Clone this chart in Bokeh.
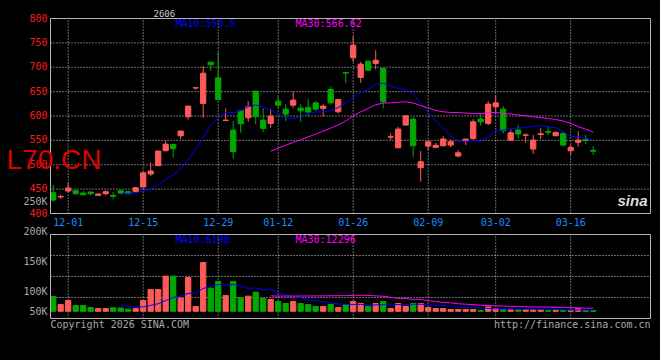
import numpy as np
import pandas as pd
from bokeh.plotting import figure
from bokeh.models import Range1d, ColumnDataSource
from bokeh.core.properties import value
from bokeh.embed import file_html
from bokeh.resources import INLINE

# ---------------- data ----------------
dates = ["11-27", "11-28",
         "12-01", "12-02", "12-03", "12-04", "12-05",
         "12-08", "12-09", "12-10", "12-11", "12-12",
         "12-15", "12-16", "12-17", "12-18", "12-19",
         "12-22", "12-23", "12-24", "12-25", "12-26",
         "12-29", "12-30", "12-31",
         "01-05", "01-06", "01-07", "01-08", "01-09",
         "01-12", "01-13", "01-14", "01-15", "01-16",
         "01-19", "01-20", "01-21", "01-22", "01-23",
         "01-26", "01-27", "01-28", "01-29", "01-30",
         "02-02", "02-03", "02-04", "02-05", "02-06",
         "02-09", "02-10", "02-11", "02-12", "02-13",
         "02-24", "02-25", "02-26", "02-27",
         "03-02", "03-03", "03-04", "03-05", "03-06",
         "03-09", "03-10", "03-11", "03-12", "03-13",
         "03-16", "03-17", "03-18", "03-19"]

opens = [442.6, 434.0, 446.1, 446.7, 442.0, 444.1, 437.3, 440.6, 437.3, 446.7,
         444.7, 444.7, 454.3, 481.0, 498.0, 528.7, 541.8, 559.4, 598.4, 657.5,
         625.8, 710.5, 678.3, 590.5, 571.1, 610.7, 596.3, 651.0, 591.6, 584.8,
         630.5, 614.1, 622.3, 616.2, 617.6, 627.0, 615.6, 654.5, 608.6, 689.0,
         719.3, 679.1, 712.5, 707.8, 697.5, 556.5, 534.8, 581.4, 593.6, 493.9,
         538.3, 535.7, 538.9, 540.4, 517.8, 548.6, 554.1, 593.6, 584.8, 618.9,
         614.1, 550.6, 571.1, 560.5, 532.2, 562.0, 568.5, 559.4, 564.3, 528.7,
         545.9, 551.5, 529.5]
highs = [458.4, 438.5, 463.1, 448.8, 446.1, 444.5, 441.0, 447.5, 444.1, 447.5,
         446.5, 454.7, 484.0, 504.9, 528.5, 549.2, 543.0, 569.5, 620.5, 658.5,
         702.9, 711.0, 731.6, 615.6, 589.5, 611.0, 630.5, 652.0, 615.6, 614.1,
         640.8, 624.4, 651.0, 624.4, 634.6, 630.5, 623.8, 659.8, 635.0, 689.5,
         763.7, 711.1, 713.5, 735.0, 698.8, 564.3, 577.9, 601.0, 597.1, 528.1,
         548.0, 545.0, 558.8, 552.0, 530.0, 553.0, 593.6, 605.3, 630.5, 642.8,
         620.3, 572.5, 581.4, 564.3, 560.9, 574.6, 579.3, 568.0, 567.6, 540.4,
         569.1, 560.9, 538.3]
lows = [424.2, 430.3, 442.6, 438.5, 437.3, 437.0, 436.0, 437.3, 429.1, 440.0,
        439.0, 444.0, 454.0, 476.8, 497.5, 528.0, 514.3, 552.7, 593.0, 653.5,
        596.3, 692.6, 633.0, 590.0, 512.3, 565.6, 588.1, 583.4, 567.6, 575.8,
        614.1, 589.5, 616.8, 588.0, 599.8, 610.7, 598.4, 623.8, 605.0, 668.0,
        711.1, 668.0, 692.0, 696.0, 615.6, 550.6, 534.0, 580.0, 516.4, 465.2,
        530.0, 533.6, 538.0, 535.7, 515.0, 540.4, 550.6, 580.0, 581.4, 605.3,
        564.3, 548.6, 554.1, 545.0, 522.1, 552.7, 560.9, 559.0, 538.3, 519.9,
        536.9, 542.4, 519.9]
closes = [427.7, 435.0, 452.3, 440.6, 438.5, 440.6, 440.0, 444.7, 435.2, 442.0,
          440.6, 452.9, 483.6, 487.1, 528.1, 542.4, 532.8, 569.1, 620.3, 658.0,
          687.9, 704.9, 634.0, 591.5, 526.7, 584.0, 618.9, 598.4, 574.6, 599.8,
          622.3, 603.9, 632.6, 610.7, 608.0, 614.1, 620.3, 627.0, 634.0, 688.0,
          745.3, 706.4, 694.0, 714.5, 629.1, 557.5, 573.2, 600.4, 538.9, 506.1,
          547.1, 539.8, 552.7, 547.1, 524.6, 552.7, 588.1, 588.1, 624.4, 627.0,
          569.7, 565.6, 562.9, 561.3, 550.6, 563.5, 566.5, 566.4, 540.4, 535.7,
          550.6, 549.8, 527.8]
# volume, thousands
volumes = [91.7, 78.3, 85.0, 76.7, 76.7, 73.3, 71.7, 71.7, 72.8, 72.5,
           70.6, 71.7, 85.0, 103.3, 103.3, 125.6, 125.6, 88.9, 123.3, 75.0,
           148.3, 105.6, 116.7, 93.3, 116.7, 90.0, 92.2, 98.9, 88.3, 86.7,
           83.3, 80.0, 83.3, 80.0, 78.3, 75.0, 75.0, 78.3, 73.3, 78.3,
           83.3, 80.0, 75.0, 80.0, 83.3, 71.7, 80.0, 75.0, 80.0, 80.0,
           73.3, 71.7, 71.7, 70.0, 70.0, 70.0, 70.0, 68.3, 74.4, 71.7,
           70.0, 70.0, 70.0, 70.0, 70.0, 69.4, 68.3, 68.3, 68.3, 68.3,
           71.7, 68.3, 68.3]
vol_base = 67.0

tick_dates = ["12-01", "12-15", "12-29", "01-12", "01-26", "02-09", "03-02", "03-16"]
price_ticks = [400, 450, 500, 550, 600, 650, 700, 750, 800]
price_tick_labels = ["400", "450", "500", "550", "600", "650", "700", "750", "800"]
vol_ticks = [250, 200, 150, 100, vol_base]
vol_tick_labels = ["250K", "200K", "150K", "100K", "50K"]
price_legend = ["MA10:550.5", "MA30:566.62"]
vol_legend = ["MA10:6198", "MA30:12296"]
ticker_name = "L70.CN"
header_text = "2606"
footer_left = "Copyright 2026 SINA.COM"
footer_right = "http://finance.sina.com.cn"
logo_text = "sina"

# ---------------- layout constants (pixels) ----------------
W, H = 658, 340
FRAME_L, FRAME_R = 50, 650
PRICE_T, PRICE_B = 18, 213
VOL_T, VOL_B = 234, 318
P_LO, P_HI = 400, 800
V_LO, V_HI = 55, 195
X_LO, X_HI = -0.36, 79.64

xpu = (FRAME_R - FRAME_L) / (X_HI - X_LO)
ppu = (PRICE_B - PRICE_T) / (P_HI - P_LO)
vpu = (VOL_B - VOL_T) / (V_HI - V_LO)

# ---------------- derived ----------------
idx = np.arange(len(dates))
o = np.array(opens); c = np.array(closes)
RED, GREEN = "#ff5a5a", "#00a800"
colors = [RED if ci >= oi else GREEN for oi, ci in zip(opens, closes)]
src = ColumnDataSource(dict(
    x=idx, h=highs, l=lows, top=np.maximum(o, c), bot=np.minimum(o, c),
    color=colors, vol=volumes, vbase=[vol_base] * len(dates),
    ma10=pd.Series(closes).rolling(10).mean(), ma30=pd.Series(closes).rolling(30).mean(),
    vma10=pd.Series(volumes).rolling(10).mean(), vma30=pd.Series(volumes).rolling(30).mean()))
tick_idx = [dates.index(d) for d in tick_dates]

MONO = "DejaVu Sans Mono"
GRID = "#d4d4d4"
BORDER = "#b4b4b4"
GRAY = "#a8a8a8"
DASH = "1 2"

p = figure(width=W, height=H, output_backend="svg", toolbar_location=None,
           x_axis_type=None, y_axis_type=None, min_border=0,
           x_range=Range1d(X_LO - FRAME_L / xpu, X_LO + (W - FRAME_L) / xpu),
           y_range=Range1d(P_HI - (H - PRICE_T) / ppu, P_HI + PRICE_T / ppu),
           background_fill_color="black", border_fill_color="black",
           outline_line_color=None)
p.extra_y_ranges = {"vol": Range1d(V_LO - (H - VOL_B) / vpu, V_HI + VOL_T / vpu)}
p.xgrid.visible = False
p.ygrid.visible = False

# --- grids (dotted) ---
inner_p = price_ticks[1:-1]
p.segment(x0=X_LO, x1=X_HI, y0=inner_p, y1=inner_p, color=GRID, line_dash=DASH)
p.segment(x0=tick_idx, x1=tick_idx, y0=P_LO, y1=P_HI, color=GRID, line_dash=DASH)
vgrid = [V_LO + (V_HI - V_LO) * k / 4 for k in (1, 2, 3)]
p.segment(x0=X_LO, x1=X_HI, y0=vgrid, y1=vgrid, color=GRID, line_dash=DASH, y_range_name="vol")
p.segment(x0=tick_idx, x1=tick_idx, y0=V_LO, y1=V_HI, color=GRID, line_dash=DASH, y_range_name="vol")

# --- price panel ---
p.segment(x0="x", y0="l", x1="x", y1="h", color="color", line_width=1, source=src)
p.vbar(x="x", width=0.7, top="top", bottom="bot", fill_color="color",
       line_color="color", line_width=1, source=src)
p.line("x", "ma10", color="#0000ff", line_width=1, source=src)
p.line("x", "ma30", color="#ff00ff", line_width=1, source=src)

# --- volume panel ---
p.vbar(x="x", width=0.7, top="vol", bottom="vbase", fill_color="color",
       line_color="color", line_width=1, source=src, y_range_name="vol")
p.line("x", "vma10", color="#0000ff", line_width=1, source=src, y_range_name="vol")
p.line("x", "vma30", color="#ff00ff", line_width=1, source=src, y_range_name="vol")

# --- panel borders ---
p.quad(left=X_LO, right=X_HI, bottom=P_LO, top=P_HI, fill_color=None, line_color=BORDER)
p.quad(left=X_LO, right=X_HI, bottom=V_LO, top=V_HI, fill_color=None, line_color=BORDER,
       y_range_name="vol")

def txt(x, y, text, color, size="10px", font=MONO, align="left", baseline="middle",
        xo=0, yo=0, style="normal", rng="default"):
    p.text(x=x, y=y, text=text, text_color=color, text_font=value(font),
           text_font_size=value(size), text_align=align, text_baseline=baseline,
           x_offset=xo, y_offset=yo, text_font_style=style, y_range_name=rng)

# axis tick labels
txt([X_LO] * len(price_ticks), price_ticks, price_tick_labels, "#ff1a1a", align="right", xo=-3, yo=-1)
txt(tick_idx, [P_LO] * len(tick_idx), tick_dates, "#1e8cff", align="center", yo=8)
txt([X_LO] * len(vol_ticks), vol_ticks, vol_tick_labels, GRAY, align="right", xo=-3, rng="vol")

# legends / captions
txt([X_LO], [P_HI], [price_legend[0]], "#0000ff", xo=125, yo=5)
txt([X_LO], [P_HI], [price_legend[1]], "#ff00ff", xo=245, yo=5)
txt([X_LO], [V_HI], [vol_legend[0]], "#0000ff", xo=125, yo=5, rng="vol")
txt([X_LO], [V_HI], [vol_legend[1]], "#ff00ff", xo=245, yo=5, rng="vol")
txt([X_LO], [P_HI], [header_text], "#c8c8c8", size="9px", xo=103, yo=-5, baseline="alphabetic")
txt([X_LO], [P_LO], [ticker_name], "#dd0000", size="28px", font="Liberation Sans",
    xo=-44, yo=-54, baseline="alphabetic")
txt([X_HI], [P_LO], [logo_text], "#dcdcdc", size="15px", font="Liberation Sans",
    align="right", xo=-3, yo=-13, baseline="alphabetic", style="bold italic")
txt([X_LO], [V_LO], [footer_left], GRAY, yo=6, rng="vol")
txt([X_HI], [V_LO], [footer_right], GRAY, align="right", yo=6, rng="vol")

html = file_html(p, INLINE, title="L70.CN")
html = html.replace("</head>", "<style>html,body{background:#000 !important;}</style></head>", 1)
open("out.html", "w").write(html)
